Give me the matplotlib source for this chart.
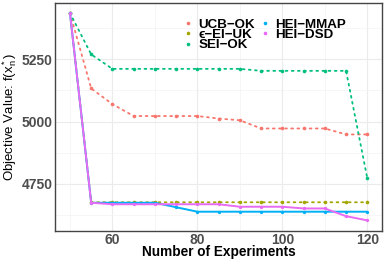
import numpy as np
import matplotlib.pyplot as plt
from matplotlib.lines import Line2D

plt.rcParams['font.family'] = ['Liberation Sans', 'DejaVu Sans']
plt.rcParams['mathtext.fontset'] = 'dejavusans'

# data
experiments = [50, 55, 60, 65, 70, 75, 80, 85, 90, 95, 100, 105, 110, 115, 120]
ucb_ok = [5437, 5133, 5070, 5022, 5022, 5022, 5022, 5012, 5005, 4972, 4972, 4972, 4972, 4948, 4948]
ei_uk = [5437, 4675, 4675, 4675, 4675, 4675, 4675, 4675, 4675, 4675, 4675, 4675, 4675, 4675, 4675]
sei_ok = [5437, 5270, 5212, 5212, 5212, 5212, 5212, 5212, 5212, 5204, 5204, 5204, 5204, 5204, 4771]
hei_mmap = [5437, 4673, 4673, 4673, 4673, 4655, 4637, 4637, 4637, 4637, 4637, 4637, 4637, 4637, 4637]
hei_dsd = [5437, 4673, 4667, 4667, 4667, 4667, 4667, 4667, 4657, 4657, 4657, 4650, 4650, 4619, 4602]

labels = ['UCB\u2212OK', '\u03f5\u2212EI\u2212UK', 'SEI\u2212OK', 'HEI\u2212MMAP', 'HEI\u2212DSD']
series = [ucb_ok, ei_uk, sei_ok, hei_mmap, hei_dsd]
colors = ['#F8766D', '#A3A500', '#00BF7D', '#00B0F6', '#E76BF3']
dotted = [True, True, True, False, False]

fig = plt.figure(figsize=(3.88, 2.59), dpi=100)
ax = fig.add_axes([0.142, 0.109, 0.843, 0.881])

for ys, c, d in zip(series, colors, dotted):
    if d:
        ax.plot(experiments, ys, color=c, lw=1.3, linestyle=(0, (1, 2.4)),
                dash_capstyle='round', marker='o', ms=2.6, mew=0, zorder=3)
    else:
        ax.plot(experiments, ys, color=c, lw=1.4, solid_capstyle='butt',
                marker='o', ms=2.4, mew=0, zorder=3)

# ggplot-like limits (5% expansion)
xr = max(experiments) - min(experiments)
ax.set_xlim(min(experiments) - 0.05 * xr, max(experiments) + 0.05 * xr)
allv = np.concatenate([np.array(s) for s in series])
yr = allv.max() - allv.min()
ax.set_ylim(allv.min() - 0.05 * yr, allv.max() + 0.05 * yr)

ax.set_xticks([60, 80, 100, 120])
ax.set_xticks([50, 70, 90, 110], minor=True)
ax.set_yticks([4750, 5000, 5250])
ax.set_yticks([4625, 4875, 5125, 5375], minor=True)
ax.grid(which='major', color='#EBEBEB', lw=0.8)
ax.grid(which='minor', color='#F3F3F3', lw=0.5)
ax.set_axisbelow(True)
ax.tick_params(which='both', length=0)
ax.tick_params(axis='both', labelsize=10, labelcolor='#4D4D4D', pad=2)
ax.tick_params(axis='x', pad=1.5)
for t in ax.get_xticklabels() + ax.get_yticklabels():
    t.set_fontweight('bold')
for s in ax.spines.values():
    s.set_color('#444444')
    s.set_linewidth(1.0)

ax.set_xlabel('Number of Experiments', fontsize=9.8, fontweight='bold', labelpad=-1)
ax.set_ylabel('Objective Value: f($\\mathregular{x_n^*}$)', fontsize=9.5, labelpad=2)

handles = [Line2D([], [], color=c, marker='o', ms=2.6, mew=0, lw=0) for c in colors]
leg = ax.legend(handles, labels, ncol=2, loc='upper left', bbox_to_anchor=(0.378, 0.955),
                frameon=False, prop={'weight': 'bold', 'size': 9.6},
                handlelength=0.6, handletextpad=0.45, columnspacing=0.45,
                labelspacing=-0.15, borderaxespad=0)

fig.savefig('out.png', dpi=100)
